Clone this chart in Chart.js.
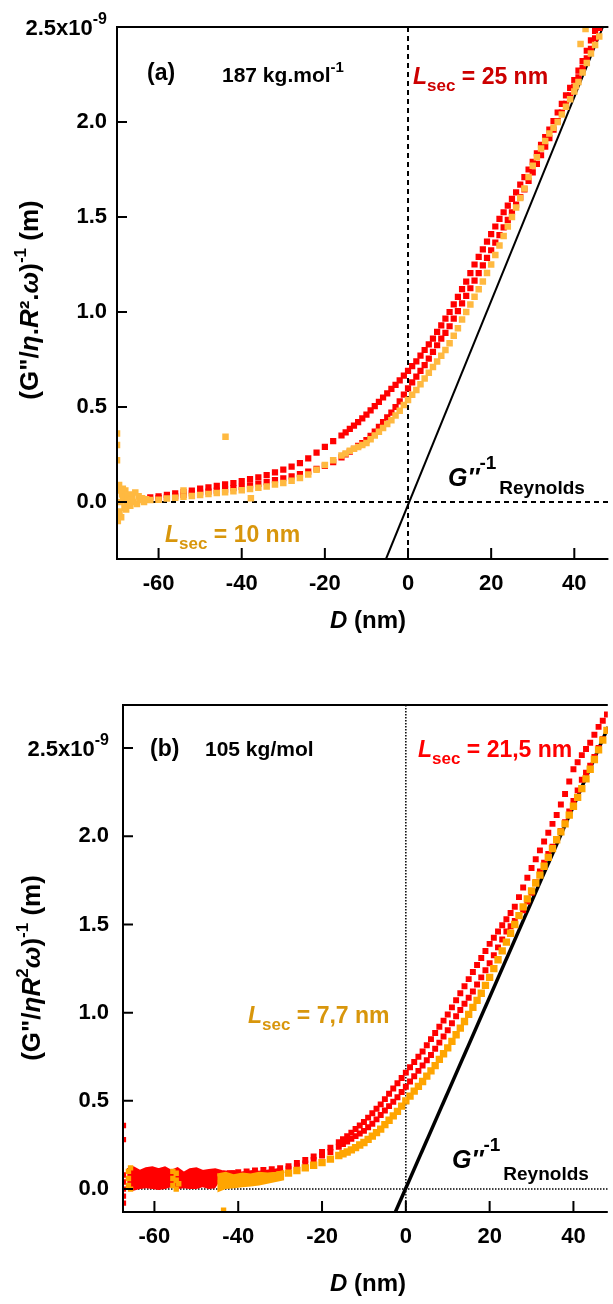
<!DOCTYPE html>
<html>
<head>
<meta charset="utf-8">
<script src="https://cdn.jsdelivr.net/npm/chart.js@4.4.1/dist/chart.umd.min.js"></script>
<style>
  body { margin: 0; background: #fff; width: 613px; height: 1304px; overflow: hidden; }
  canvas { position: absolute; left: 0; }
  #chartA { top: 0; }
  #chartB { top: 650px; }
</style>
</head>
<body>
<canvas id="chartA" width="613" height="650"></canvas>
<canvas id="chartB" width="613" height="654"></canvas>
<script>
// values in units of 1e-9 m, D in nm
const xTicks = [-60, -40, -20, 0, 20, 40];
const yTicks = [0, 0.5, 1.0, 1.5, 2.0, 2.5];

// ---------- panel (a) 187 kg/mol ----------
const dA = [-64, -62, -60, -58, -56, -54, -52, -50, -48, -46, -44, -42, -40, -38, -36, -34, -32, -30, -28, -26, -24, -22, -20, -18,
  -16, -15, -14, -13, -12, -11, -10, -9, -8, -7, -6, -5, -4, -3, -2, -1, 0, 1, 2, 3, 4, 5, 6, 7, 8, 9, 10,
  11, 12, 13, 14, 15, 16, 17, 18, 19, 20, 21, 22, 23, 24, 25, 26, 27, 28, 29, 30, 31, 32, 33, 34, 35, 36, 37, 38, 39, 40,
  41, 42, 43, 44, 45, 46];
const redA1 = [0.02, 0.025, 0.03, 0.038, 0.045, 0.052, 0.06, 0.07, 0.077, 0.085, 0.093, 0.10, 0.11, 0.12, 0.13, 0.142, 0.156, 0.17, 0.186, 0.205, 0.23, 0.26, 0.29, 0.32,
  0.35, 0.367, 0.385, 0.402, 0.42, 0.44, 0.46, 0.482, 0.505, 0.527, 0.55, 0.572, 0.595, 0.617, 0.64, 0.665, 0.69, 0.715, 0.74, 0.77, 0.80, 0.83, 0.86, 0.895, 0.93, 0.965, 1.00,
  1.04, 1.08, 1.12, 1.16, 1.205, 1.25, 1.29, 1.33, 1.37, 1.41, 1.45, 1.49, 1.525, 1.56, 1.595, 1.63, 1.67, 1.71, 1.75, 1.79, 1.835, 1.88, 1.92, 1.96, 2.005, 2.05, 2.095, 2.14, 2.18, 2.22,
  2.27, 2.32, 2.375, 2.43, 2.48, 2.53];
const redA2 = [null, null, 0.02, 0.025, 0.03, 0.037, 0.045, 0.05, 0.055, 0.06, 0.065, 0.073, 0.08, 0.087, 0.095, 0.105, 0.115, 0.125, 0.135, 0.147, 0.16, 0.175, 0.19, 0.21,
  0.235, 0.25, 0.265, 0.28, 0.295, 0.31, 0.326, 0.348, 0.37, 0.395, 0.42, 0.445, 0.47, 0.50, 0.53, 0.565, 0.598, 0.63, 0.66, 0.69, 0.72, 0.755, 0.79, 0.825, 0.86, 0.89, 0.925,
  0.965, 1.005, 1.045, 1.085, 1.125, 1.165, 1.205, 1.245, 1.285, 1.325, 1.365, 1.405, 1.445, 1.485, 1.525, 1.565, 1.605, 1.645, 1.69, 1.735, 1.78, 1.825, 1.87, 1.915, 1.96, 2.005, 2.05, 2.095, 2.14, 2.185,
  2.235, 2.285, 2.335, 2.385, 2.44, 2.495];
const orangeA = [null, 0.01, 0.012, 0.018, 0.022, 0.027, 0.032, 0.037, 0.042, 0.047, 0.051, 0.056, 0.062, 0.068, 0.075, 0.082, 0.092, 0.10, 0.112, 0.126, 0.145, 0.17, 0.195, 0.22,
  0.245, 0.255, 0.27, 0.28, 0.29, 0.30, 0.31, 0.33, 0.35, 0.37, 0.39, 0.41, 0.43, 0.455, 0.48, 0.51, 0.537, 0.565, 0.59, 0.62, 0.65, 0.68, 0.71, 0.74, 0.77, 0.80, 0.835,
  0.875, 0.915, 0.96, 1.0, 1.04, 1.08, 1.12, 1.16, 1.205, 1.25, 1.30, 1.35, 1.40, 1.45, 1.50, 1.55, 1.60, 1.65, 1.71, 1.77, 1.815, 1.86, 1.90, 1.94, 1.97, 2.0, 2.04, 2.08, 2.12, 2.16,
  2.21, 2.26, 2.31, 2.36, 2.405, 2.45];
// scattered orange points near contact and a few outliers
const orangeNoiseAD = [-70, -70, -70, -69.8, -69.8, -69.6, -69.5, -69.2, -69, -68.8, -68.5, -68.2, -68, -67.7, -67.4, -67, -66.8, -66.4, -66, -65.6, -65.2, -64.8, -64.4, -64, -63.5, -63,
  -69.4, -68.6, -67.8, -66.6, -43.9, -37.8, -54, 40.4, 41.5, 42.7];
const orangeNoiseAY = [0.22, 0.3, 0.36, -0.1, 0.06, -0.05, 0.09, 0.0, -0.08, 0.04, 0.02, -0.03, 0.06, 0.0, 0.03, 0.04, -0.02, 0.02, 0.0, 0.05, -0.01, 0.03, 0.01, 0.02, 0.0, 0.015,
  -0.06, 0.07, -0.04, 0.01, 0.344, 0.02, 0.06, 2.19, 2.41, 2.49];
const reynoldsAD = [-5.3, 48];
const reynoldsAY = [-0.3, 2.56];

// ---------- panel (b) 105 kg/mol ----------
const dB = [-44, -42, -40, -38, -36, -34, -32, -30, -28, -26, -24, -22, -20, -18,
  -16, -15, -14, -13, -12, -11, -10, -9, -8, -7, -6, -5, -4, -3, -2, -1, 0, 1, 2, 3, 4, 5, 6, 7, 8, 9, 10,
  11, 12, 13, 14, 15, 16, 17, 18, 19, 20, 21, 22, 23, 24, 25, 26, 27, 28, 29, 30, 31, 32, 33, 34, 35, 36, 37, 38, 39, 40,
  41, 42, 43, 44, 45, 46, 47, 48];
const redB1 = [0.085, 0.09, 0.095, 0.10, 0.105, 0.108, 0.112, 0.118, 0.13, 0.148, 0.165, 0.185, 0.21, 0.235,
  0.265, 0.282, 0.30, 0.32, 0.34, 0.36, 0.38, 0.405, 0.43, 0.455, 0.48, 0.51, 0.54, 0.57, 0.60, 0.63, 0.66, 0.69, 0.72, 0.75, 0.78, 0.815, 0.85, 0.885, 0.92, 0.955, 0.99,
  1.03, 1.07, 1.11, 1.15, 1.19, 1.23, 1.27, 1.31, 1.35, 1.39, 1.425, 1.46, 1.495, 1.53, 1.565, 1.60, 1.655, 1.71, 1.765, 1.82, 1.87, 1.92, 1.97, 2.02, 2.07, 2.12, 2.18, 2.24, 2.31, 2.38,
  2.42, 2.46, 2.495, 2.53, 2.575, 2.62, 2.655, 2.69];
const redB2 = [null, null, null, null, null, null, null, 0.10, 0.115, 0.13, 0.145, 0.165, 0.19, 0.21,
  0.24, 0.255, 0.27, 0.285, 0.30, 0.315, 0.33, 0.35, 0.37, 0.395, 0.42, 0.445, 0.47, 0.495, 0.52, 0.55, 0.58, 0.61, 0.64, 0.67, 0.70, 0.73, 0.76, 0.795, 0.83, 0.865, 0.90,
  0.94, 0.98, 1.015, 1.05, 1.085, 1.12, 1.16, 1.20, 1.24, 1.28, 1.325, 1.37, 1.415, 1.46, 1.49, 1.52, 1.55, 1.58, 1.63, 1.68, 1.74, 1.80, 1.85, 1.90, 1.94, 1.98, 2.03, 2.08, 2.14, 2.20,
  2.26, 2.32, 2.36, 2.40, 2.45, 2.50, 2.55, 2.60];
const orangeB = [0.03, 0.035, 0.04, 0.045, 0.05, 0.06, 0.07, 0.08, 0.09, 0.105, 0.12, 0.135, 0.15, 0.17,
  0.19, 0.20, 0.21, 0.222, 0.235, 0.25, 0.264, 0.282, 0.30, 0.32, 0.34, 0.365, 0.39, 0.415, 0.44, 0.47, 0.50, 0.527, 0.555, 0.582, 0.61, 0.64, 0.67, 0.70, 0.735, 0.767, 0.80,
  0.837, 0.875, 0.912, 0.95, 0.99, 1.03, 1.07, 1.11, 1.155, 1.20, 1.25, 1.30, 1.35, 1.40, 1.45, 1.50, 1.55, 1.60, 1.645, 1.69, 1.735, 1.78, 1.83, 1.88, 1.93, 1.98, 2.025, 2.07, 2.12, 2.17,
  2.22, 2.27, 2.325, 2.38, 2.435, 2.49, 2.545, 2.60];
// noisy plateau near contact drawn as bands
const redBandD = [-66.5, -65, -63.5, -62, -60.5, -59, -57.5, -56, -54.5, -53, -51.5, -50, -48.5, -47, -45.5, -44, -42.5, -41, -39.5, -38, -36.5, -35, -33.5, -32, -30.5];
const redBandTop = [0.11, 0.12, 0.10, 0.115, 0.12, 0.11, 0.12, 0.10, 0.115, 0.09, 0.11, 0.115, 0.10, 0.105, 0.11, 0.10, 0.095, 0.10, 0.09, 0.095, 0.10, 0.095, 0.10, 0.105, 0.11];
const redBandLow = [0.0, -0.01, 0.0, 0.005, 0.0, -0.005, 0.0, 0.01, 0.0, 0.005, 0.0, 0.0, 0.01, 0.0, 0.005, 0.06, 0.065, 0.06, 0.07, 0.065, 0.07, 0.075, 0.08, 0.085, 0.09];
const orangeBandD = [-45, -43, -41, -39, -37, -35, -33, -31, -29];
const orangeBandTop = [0.08, 0.09, 0.075, 0.085, 0.08, 0.09, 0.085, 0.09, 0.1];
const orangeBandLow = [-0.02, 0.0, 0.005, 0.01, 0.015, 0.02, 0.03, 0.04, 0.05];
const redEdgeBD = [-67.4, -67.4, -67.4, -67.4, -67.4, -67.4, -67.4];
const redEdgeBY = [-0.08, -0.04, 0.0, 0.04, 0.08, 0.28, 0.36];
const orangeColsBD = [-66.2, -66.2, -66.2, -65.7, -65.7, -55.6, -55.6, -55.6, -54.8, -54.8, -54.8, -54.2, -43.5];
const orangeColsBY = [0.02, 0.06, 0.1, 0.0, 0.12, 0.02, 0.06, 0.1, 0.0, 0.05, 0.09, 0.03, -0.12];
const reynoldsBD = [-2.5, 48.3];
const reynoldsBY = [-0.13, 2.62];

const FONT = '"Liberation Sans", Arial, sans-serif';
const RED = '#ff0000';

function pts(xs, ys) {
  return xs.map((x, i) => ({ x: x, y: ys[i] })).filter(p => p.y !== null);
}
function dots(xs, ys, color, r, order) {
  return { data: pts(xs, ys), pointStyle: 'rect', pointRadius: r, backgroundColor: color,
    borderWidth: 0, borderColor: color, showLine: false, order: order };
}
function line(xs, ys, width, order) {
  return { data: pts(xs, ys), showLine: true, borderColor: '#000', borderWidth: width,
    pointRadius: 0, fill: false, order: order };
}
function bandLow(xs, ys, order) {
  return { data: pts(xs, ys), showLine: true, borderColor: 'rgba(0,0,0,0)', borderWidth: 1,
    pointRadius: 0, fill: false, order: order };
}
function bandTop(xs, ys, color, order) {
  return { data: pts(xs, ys), showLine: true, borderColor: color, borderWidth: 3,
    pointRadius: 0, backgroundColor: color, fill: '-1', order: order };
}

// draw text made of parts (italic, bold, sup, sub)
function richText(ctx, x, y, parts, size, color, align, bold) {
  const segs = parts.map(p => {
    const s = p.size || ((p.sup || p.sub) ? size * 0.7 : size);
    const font = (p.it ? 'italic ' : '') + ((p.b || bold) ? 'bold ' : '') + s + 'px ' + FONT;
    ctx.font = font;
    const dy = p.dy !== undefined ? p.dy : (p.sup ? -size * 0.45 : p.sub ? size * 0.33 : 0);
    return { t: p.t, font: font, w: ctx.measureText(p.t).width, dy: dy, dx: p.dx || 0 };
  });
  const total = segs.reduce((a, s) => a + s.w + s.dx, 0);
  let cx = align === 'center' ? x - total / 2 : align === 'right' ? x - total : x;
  ctx.fillStyle = color;
  ctx.textAlign = 'left';
  ctx.textBaseline = 'alphabetic';
  segs.forEach(s => {
    ctx.font = s.font;
    cx += s.dx;
    ctx.fillText(s.t, cx, y + s.dy);
    cx += s.w;
  });
}

function decor(cfg) {
  return {
    id: 'decor',
    beforeDatasetsDraw(chart) {
      const { ctx, chartArea: a, scales: { x, y } } = chart;
      const x0 = x.getPixelForValue(0), y0 = y.getPixelForValue(0);
      ctx.save();
      ctx.strokeStyle = '#000';
      ctx.lineWidth = cfg.dashWidth;
      ctx.setLineDash(cfg.dash);
      ctx.beginPath();
      ctx.moveTo(a.left, y0); ctx.lineTo(a.right, y0);
      ctx.moveTo(x0, a.top); ctx.lineTo(x0, a.bottom);
      ctx.stroke();
      ctx.restore();
    },
    afterDraw(chart) {
      const { ctx, chartArea: a, scales: { x, y } } = chart;
      ctx.save();
      ctx.strokeStyle = '#000';
      ctx.lineWidth = 2;
      ctx.beginPath();
      ctx.moveTo(a.right, a.top); ctx.lineTo(a.left, a.top);
      ctx.lineTo(a.left, a.bottom); ctx.lineTo(a.right, a.bottom);
      // inward tick marks
      yTicks.forEach(v => {
        const py = y.getPixelForValue(v);
        ctx.moveTo(a.left, py); ctx.lineTo(a.left + 10, py);
      });
      xTicks.forEach(v => {
        const px = x.getPixelForValue(v);
        ctx.moveTo(px, a.bottom); ctx.lineTo(px, a.bottom - 11);
      });
      ctx.stroke();

      // 2.5x10^-9 label
      const py25 = y.getPixelForValue(2.5);
      richText(ctx, a.left - cfg.labelPad, py25 + 8, [{ t: '2.5x10' }, { t: '-9', size: 16, dy: -11 }], 22, '#000', 'right', true);

      // axis titles
      richText(ctx, cfg.xTitle[0], cfg.xTitle[1], [{ t: 'D', it: true }, { t: ' (nm)' }], 24, '#000', 'center', true);
      ctx.save();
      ctx.translate(cfg.yTitle[0], cfg.yTitle[1]);
      ctx.rotate(-Math.PI / 2);
      richText(ctx, 0, 9, cfg.yTitleParts, 26, '#000', 'center', true);
      ctx.restore();

      cfg.notes.forEach(n => richText(ctx, n.x, n.y, n.parts, n.size, n.color, 'left', true));
      ctx.restore();
    }
  };
}

function makeChart(id, datasets, cfg) {
  return new Chart(document.getElementById(id), {
    type: 'scatter',
    data: { datasets: datasets },
    options: {
      responsive: false,
      animation: false,
      events: [],
      layout: { padding: { top: cfg.top, left: 0, right: 0, bottom: 0 } },
      plugins: { legend: { display: false }, tooltip: { enabled: false } },
      scales: {
        x: {
          type: 'linear', min: cfg.xMin, max: cfg.xMax,
          afterBuildTicks: s => { s.ticks = xTicks.map(v => ({ value: v })); },
          afterFit: s => { s.height = cfg.xAxisH; },
          grid: { display: false, drawTicks: false },
          border: { display: false },
          ticks: { padding: 12, color: '#000', maxRotation: 0, autoSkip: false,
            font: { family: FONT, size: 22, weight: 'bold' } }
        },
        y: {
          type: 'linear', min: cfg.yMin, max: cfg.yMax,
          afterBuildTicks: s => { s.ticks = yTicks.map(v => ({ value: v })); },
          afterFit: s => { s.width = cfg.left; },
          grid: { display: false, drawTicks: false },
          border: { display: false },
          ticks: { padding: cfg.labelPad, color: '#000', autoSkip: false,
            callback: v => (v === 2.5 ? '' : v.toFixed(1)),
            font: { family: FONT, size: 22, weight: 'bold' } }
        }
      }
    },
    plugins: [decor(cfg)]
  });
}

const orangeLight = '#ffb940';
const orangeDark = '#ffa500';
const goldText = '#d8960c';

makeChart('chartA', [
  dots(dA, orangeA, orangeLight, 4.6, 1),
  dots(orangeNoiseAD, orangeNoiseAY, orangeLight, 4.6, 1),
  dots(dA, redA2, RED, 4.4, 2),
  dots(dA, redA1, RED, 4.4, 2),
  line(reynoldsAD, reynoldsAY, 2, 3)
], {
  top: 27, left: 117, xAxisH: 91, xMin: -70, xMax: 48.2, yMin: -0.3, yMax: 2.5,
  labelPad: 10, dash: [5, 4], dashWidth: 2,
  xTitle: [368, 628], yTitle: [29, 300],
  yTitleParts: [{ t: '(G"/' }, { t: 'η', it: true }, { t: '.' }, { t: 'R', it: true }, { t: '²' }, { t: '.' }, { t: 'ω', it: true }, { t: ')' }, { t: '-1', size: 17, dy: -12 }, { t: ' (m)' }],
  notes: [
    { x: 147, y: 80, size: 23, color: '#000', parts: [{ t: '(a)' }] },
    { x: 222, y: 82, size: 21, color: '#000', parts: [{ t: '187 kg.mol' }, { t: '-1', size: 15, dy: -10 }] },
    { x: 413, y: 84, size: 23, color: '#cc0000', parts: [{ t: 'L', it: true }, { t: 'sec', size: 17, dy: 7 }, { t: ' = 25 nm' }] },
    { x: 165, y: 542, size: 23, color: goldText, parts: [{ t: 'L', it: true }, { t: 'sec', size: 17, dy: 7 }, { t: ' = 10 nm' }] },
    { x: 448, y: 486, size: 25, color: '#000', parts: [{ t: 'G″', it: true }, { t: '-1', size: 19, dy: -17 }, { t: 'Reynolds', size: 19, dy: 8, dx: 3 }] }
  ]
});

makeChart('chartB', [
  dots(orangeColsBD, orangeColsBY, orangeDark, 3.8, 1),
  dots(dB, orangeB, orangeDark, 5.2, 1),
  bandLow(orangeBandD, orangeBandLow, 2),
  bandTop(orangeBandD, orangeBandTop, orangeDark, 2),
  dots(dB, redB2, RED, 4.2, 3),
  dots(dB, redB1, RED, 4.2, 3),
  dots(redEdgeBD, redEdgeBY, RED, 3.8, 3),
  line(reynoldsBD, reynoldsBY, 3.5, 4),
  bandLow(redBandD, redBandLow, 5),
  bandTop(redBandD, redBandTop, RED, 5)
], {
  top: 55, left: 123, xAxisH: 92, xMin: -67.5, xMax: 48.2, yMin: -0.13, yMax: 2.744,
  labelPad: 14, dash: [1.5, 1.5], dashWidth: 1.5,
  xTitle: [368, 641], yTitle: [31, 318],
  yTitleParts: [{ t: '(G"/' }, { t: 'η', it: true }, { t: 'R', it: true }, { t: '2', size: 17, dy: -12 }, { t: 'ω', it: true }, { t: ')' }, { t: '-1', size: 17, dy: -12 }, { t: ' (m)' }],
  notes: [
    { x: 150, y: 106, size: 23, color: '#000', parts: [{ t: '(b)' }] },
    { x: 205, y: 106, size: 21, color: '#000', parts: [{ t: '105 kg/mol' }] },
    { x: 418, y: 107, size: 23, color: RED, parts: [{ t: 'L', it: true }, { t: 'sec', size: 17, dy: 7 }, { t: ' = 21,5 nm' }] },
    { x: 248, y: 373, size: 23, color: goldText, parts: [{ t: 'L', it: true }, { t: 'sec', size: 17, dy: 7 }, { t: ' = 7,7 nm' }] },
    { x: 452, y: 518, size: 25, color: '#000', parts: [{ t: 'G″', it: true }, { t: '-1', size: 19, dy: -17 }, { t: 'Reynolds', size: 19, dy: 12, dx: 3 }] }
  ]
});
</script>
</body>
</html>
